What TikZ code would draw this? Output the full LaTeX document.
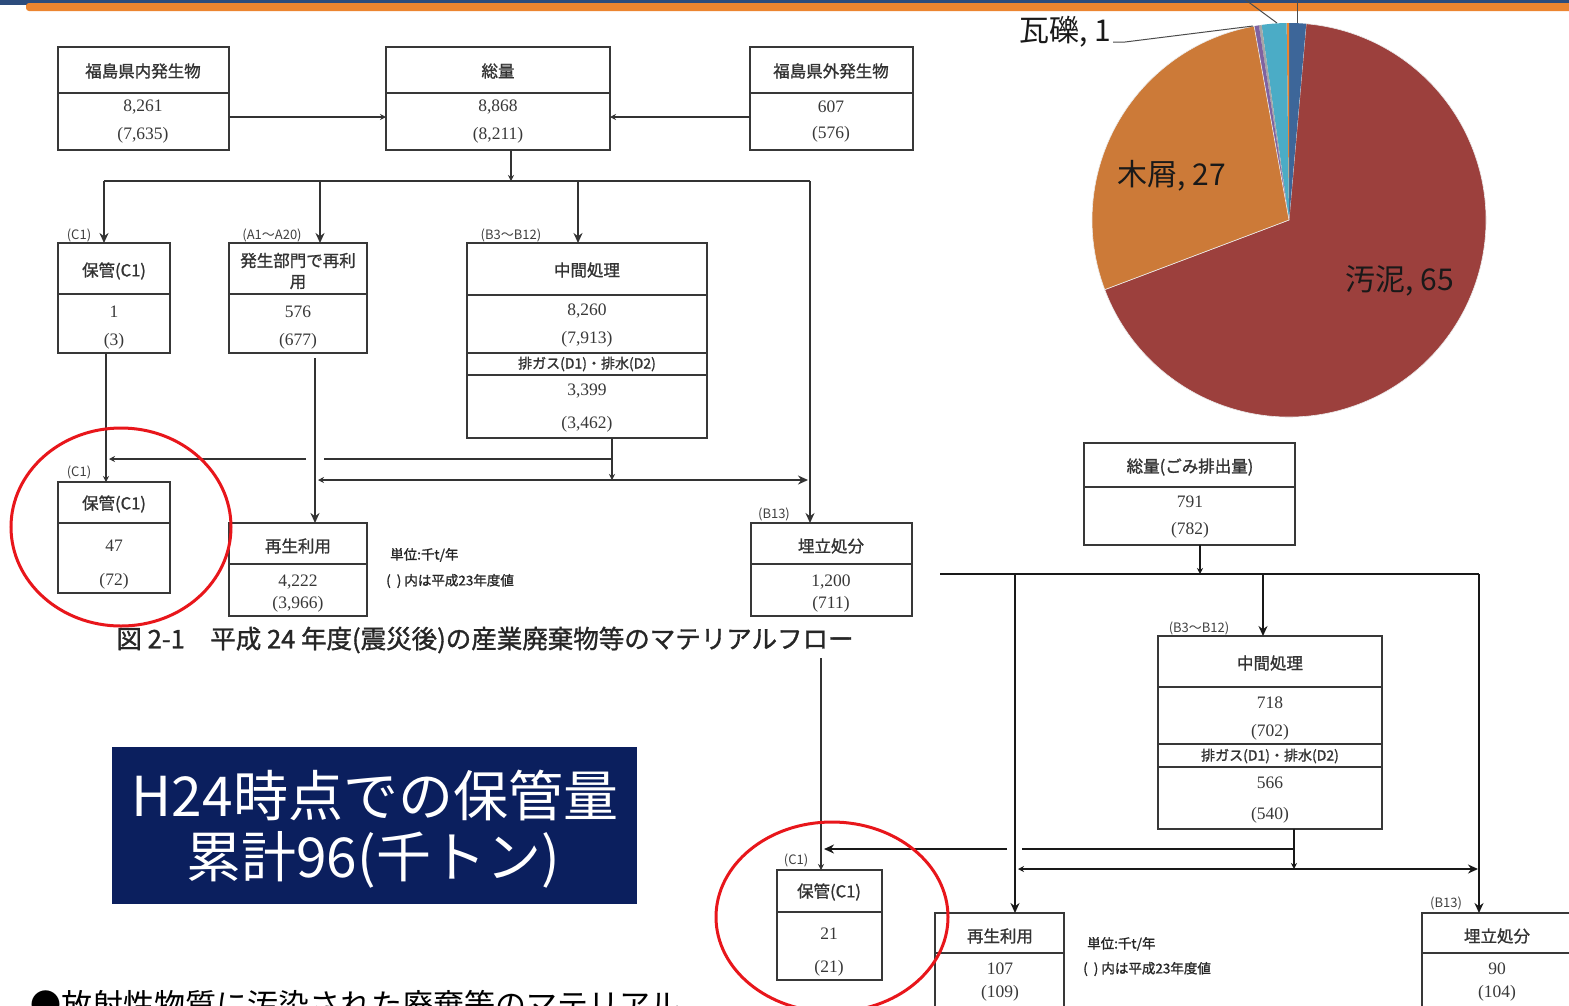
\documentclass[tikz,border=0pt]{standalone}
\usepackage{fontspec}
\setmainfont{Liberation Serif}
\newfontfamily\jp{Noto Sans CJK JP}
\newfontfamily\jpb[FakeBold=1.2]{Noto Sans CJK JP}
\usetikzlibrary{arrows.meta}
\definecolor{barblue}{HTML}{2D4C7C}
\definecolor{barorange}{HTML}{EC8530}
\definecolor{sludge}{HTML}{9C403D}
\definecolor{wood}{HTML}{CC7A38}
\definecolor{skyc}{HTML}{4BACC6}
\definecolor{darkb}{HTML}{3D6699}
\definecolor{purp}{HTML}{7F62A0}
\definecolor{navybox}{HTML}{0B1F5E}
\definecolor{ringred}{HTML}{E8161B}
\newcommand\mfbox[5]{\node[boxst, minimum width={(#4)-(#2)}, minimum height={(#5)-(#3)}] (#1) at (#2,#3) {};}
\newcommand\mfdiv[3]{\draw[divst] (#1,#3) -- (#2,#3);}
\begin{document}
\begin{tikzpicture}[x=1pt,y=-1pt,
  boxst/.style={draw=black!78, line width=2pt, anchor=north west, inner sep=0pt, outer sep=0pt, fill=white},
  divst/.style={draw=black!78, line width=2pt},
  hdr/.style={font=\jpb\fontsize{16.5}{21}\selectfont, text=black!80, inner sep=0pt, align=center},
  num/.style={font=\fontsize{17.5}{18}\selectfont, text=black!78, inner sep=0pt},
  tagst/.style={font=\jp\fontsize{13}{13}\selectfont, text=black!75, inner sep=0pt},
  unitst/.style={font=\jpb\fontsize{13.5}{13.5}\selectfont, text=black!85, inner sep=0pt, anchor=west},
  fl/.style={draw=black!80, line width=1.8pt},
  flb/.style={draw=black!90, line width=2.8pt},
  tipL/.style={-{Stealth[length=10pt,width=9pt]}},
  tipS/.style={-{Stealth[length=6pt,width=6pt]}},
  ring/.style={draw=ringred, line width=3pt},
  pielab/.style={font=\jp\fontsize{30}{30}\selectfont, text=black!90, inner sep=0pt},
  slice/.style={draw=white!85!gray, line width=0.6pt}
]
\useasboundingbox (0,0) rectangle (1569,1005);
\clip (0,0) rectangle (1569,1005);
\fill[white] (0,0) rectangle (1569,1005);

% top bar
\fill[barblue] (0,0) rectangle (1569,4.5);
\fill[barorange, rounded corners=3pt] (26,3) rectangle (1575,11);
\fill[barorange] (26,4.5) rectangle (1569,7);

% pie chart
\begin{scope}[shift={(1289,220)}, yscale=-1]
  \fill[sludge, slice] (0,0) -- (-159.3:197) arc[start angle=-159.3, end angle=85, radius=197] -- cycle;
  \fill[darkb] (0,0) -- (85:197) arc[start angle=85, end angle=90, radius=197] -- cycle;
  \fill[barorange] (0,0) -- (90:197) arc[start angle=90, end angle=90.7, radius=197] -- cycle;
  \fill[skyc] (0,0) -- (90.7:197) arc[start angle=90.7, end angle=98, radius=197] -- cycle;
  \fill[black!35] (0,0) -- (98:197) arc[start angle=98, end angle=98.8, radius=197] -- cycle;
  \fill[purp] (0,0) -- (98.8:197) arc[start angle=98.8, end angle=100.2, radius=197] -- cycle;
  \fill[wood, slice] (0,0) -- (100.2:197) arc[start angle=100.2, end angle=200.7, radius=197] -- cycle;
\end{scope}
\node[pielab] (lwood) at (1172,176) {木屑, 27};
\node[pielab] (lsludge) at (1400,281) {汚泥, 65};
\node[pielab, anchor=east] (lrubble) at (1111,32) {{\jp 瓦礫}, 1};
\coordinate (rubTip) at (1253,26);
\coordinate (topA) at (1277,23);
\coordinate (topAe) at (1243,-2);
\coordinate (topB) at (1297,23);
\coordinate (topBe) at (1297,-2);
\draw[black!70, line width=1pt] ([xshift=2pt,yshift=-10pt]lrubble.east) -- ++(12,0) -- (rubTip);
\draw[black!70, line width=1pt] (topA) -- (topAe);
\draw[black!70, line width=1pt] (topB) -- (topBe);

% ---------- flow chart 1 ----------
\mfbox{A}{58}{47}{229}{150} \mfdiv{58}{229}{93}
\mfbox{B}{386}{47}{610}{150} \mfdiv{386}{610}{93}
\mfbox{C}{750}{47}{913}{150} \mfdiv{750}{913}{93}
\mfbox{D}{58}{243}{170}{353} \mfdiv{58}{170}{294}
\mfbox{E}{229}{243}{367}{353} \mfdiv{229}{367}{294}
\mfbox{F}{467}{243}{707}{438} \mfdiv{467}{707}{295} \mfdiv{467}{707}{353} \mfdiv{467}{707}{375}
\mfbox{G}{58}{482}{170}{593} \mfdiv{58}{170}{523}
\mfbox{H}{229}{523}{367}{616} \mfdiv{229}{367}{564}
\mfbox{I}{751}{523}{912}{616} \mfdiv{751}{912}{564}

\node[hdr] (Ah) at (143,71) {福島県内発生物};
\node[num] (An1) at (143,107) {8,261};
\node[num] (An2) at (143,135) {(7,635)};
\node[hdr] (Bh) at (498,71) {総量};
\node[num] (Bn1) at (498,107) {8,868};
\node[num] (Bn2) at (498,135) {(8,211)};
\node[hdr] (Ch) at (831,71) {福島県外発生物};
\node[num] (Cn1) at (831,107) {607};
\node[num] (Cn2) at (831,134) {(576)};
\node[hdr] (Dh) at (114,271) {保管(C1)};
\node[num] (Dn1) at (114,312) {1};
\node[num] (Dn2) at (114,341) {(3)};
\node[hdr] (Eh) at (298,271) {発生部門で再利\\用};
\node[num] (En1) at (298,312) {576};
\node[num] (En2) at (298,341) {(677)};
\node[hdr] (Fh) at (587,270) {中間処理};
\node[num] (Fn1) at (587,311) {8,260};
\node[num] (Fn2) at (587,339) {(7,913)};
\node[hdr, font=\jpb\fontsize{14}{14}\selectfont] (Fg) at (587,364) {排ガス(D1)・排水(D2)};
\node[num] (Fn3) at (587,391) {3,399};
\node[num] (Fn4) at (587,424) {(3,462)};
\node[hdr] (Gh) at (114,504) {保管(C1)};
\node[num] (Gn1) at (114,546) {47};
\node[num] (Gn2) at (114,581) {(72)};
\node[hdr] (Hh) at (298,546) {再生利用};
\node[num] (Hn1) at (298,582) {4,222};
\node[num] (Hn2) at (298,604) {(3,966)};
\node[hdr] (Ih) at (831,546) {埋立処分};
\node[num] (In1) at (831,582) {1,200};
\node[num] (In2) at (831,604) {(711)};

\node[tagst] (tD) at (79,235) {(C1)};
\node[tagst] (tE) at (272,235) {(A1～A20)};
\node[tagst] (tF) at (511,235) {(B3～B12)};
\node[tagst] (tG) at (79,472) {(C1)};
\node[tagst] (tI) at (774,514) {(B13)};
\node[unitst] (u1) at (390,555) {単位:千t/年};
\node[unitst] (u2) at (386,581) {(\ \ )\ 内は平成23年度値};
\node[font=\jpb\fontsize{25.5}{25.5}\selectfont, text=black!85, inner sep=0pt] (cap) at (485,640) {図 2-1　平成 24 年度(震災後)の産業廃棄物等のマテリアルフロー};

\draw[fl,tipS] ([yshift=-18.5pt]A.east) -- ([yshift=-18.5pt]B.west);
\draw[fl,tipS] ([yshift=-18.5pt]C.west) -- ([yshift=-18.5pt]B.east);
\coordinate (j1) at (511,181);
\draw[fl,tipS] (B.south -| j1) -- (j1);
\coordinate (busL) at (104,181);
\coordinate (busR) at (810,181);
\draw[fl] (busL) -- (busR);
\draw[fl,tipL] (busL) -- (busL |- D.north);
\coordinate (bE) at (320,181);
\draw[fl,tipL] (bE) -- (bE |- E.north);
\coordinate (bF) at (578,181);
\draw[fl,tipL] (bF) -- (bF |- F.north);
\draw[fl,tipL] (busR) -- (busR |- I.north);
\coordinate (xD) at (106,0);
\draw[fl,tipS] (D.south -| xD) -- (G.north -| xD);
\coordinate (xE) at (315,358);
\draw[fl,tipL] (xE) -- (xE |- H.north);
\coordinate (fj) at (612,480);
\coordinate (fk) at (612,459);
\coordinate (gapR) at (324,459);
\coordinate (gapL) at (306,459);
\coordinate (toD) at (109,459);
\coordinate (toE) at (318,480);
\coordinate (toI) at (808,480);
\draw[fl,tipS] (F.south -| fj) -- (fj);
\draw[fl] (fk) -- (gapR);
\draw[fl,tipS] (gapL) -- (toD);
\draw[fl,tipS] (fj) -- (toE);
\draw[fl,tipL] (fj) -- (toI);

\draw[ring] (121,527) ellipse [x radius=110, y radius=99];

% ---------- blue box ----------
\node[fill=navybox, anchor=north west, minimum width=525, minimum height=157, inner sep=0pt] (H24) at (112,747) {};
\node[font=\jp\fontsize{55}{55}\selectfont, text=white, inner sep=0pt] (H24a) at (375,795) {H24時点での保管量};
\node[font=\jp\fontsize{55}{55}\selectfont, text=white, inner sep=0pt] (H24b) at (373,860) {累計96(千トン)};

\node[font=\jp\fontsize{31}{31}\selectfont, text=black, inner sep=0pt, anchor=base west] (btm) at (30,1016) {●放射性物質に汚染された廃棄等のマテリアル};

% ---------- flow chart 2 ----------
\mfbox{J}{1084}{443}{1295}{545} \mfdiv{1084}{1295}{487}
\mfbox{K}{1158}{636}{1382}{829} \mfdiv{1158}{1382}{687} \mfdiv{1158}{1382}{744} \mfdiv{1158}{1382}{767}
\mfbox{L}{777}{870}{882}{980} \mfdiv{777}{882}{912}
\mfbox{M}{935}{913}{1064}{1020} \mfdiv{935}{1064}{953}
\mfbox{N}{1422}{913}{1585}{1020} \mfdiv{1422}{1585}{953}

\node[hdr] (Jh) at (1190,467) {総量(ごみ排出量)};
\node[num] (Jn1) at (1190,502) {791};
\node[num] (Jn2) at (1190,530) {(782)};
\node[hdr] (Kh) at (1270,663) {中間処理};
\node[num] (Kn1) at (1270,703) {718};
\node[num] (Kn2) at (1270,732) {(702)};
\node[hdr, font=\jpb\fontsize{14}{14}\selectfont] (Kg) at (1270,756) {排ガス(D1)・排水(D2)};
\node[num] (Kn3) at (1270,783) {566};
\node[num] (Kn4) at (1270,815) {(540)};
\node[hdr] (Lh) at (829,892) {保管(C1)};
\node[num] (Ln1) at (829,934) {21};
\node[num] (Ln2) at (829,968) {(21)};
\node[hdr] (Mh) at (1000,936) {再生利用};
\node[num] (Mn1) at (1000,969) {107};
\node[num] (Mn2) at (1000,993) {(109)};
\node[hdr] (Nh) at (1497,936) {埋立処分};
\node[num] (Nn1) at (1497,969) {90};
\node[num] (Nn2) at (1497,993) {(104)};

\node[tagst] (tK) at (1199,628) {(B3～B12)};
\node[tagst] (tL) at (796,860) {(C1)};
\node[tagst] (tN) at (1446,903) {(B13)};
\node[unitst] (u3) at (1087,944) {単位:千t/年};
\node[unitst] (u4) at (1083,969) {(\ \ )\ 内は平成23年度値};

\coordinate (k1) at (1200,574);
\draw[flb,tipS] (J.south -| k1) -- (k1);
\coordinate (b2L) at (940,574);
\coordinate (b2R) at (1479,574);
\draw[flb] (b2L) -- (b2R);
\coordinate (b2M) at (1015,574);
\draw[flb,tipL] (b2M) -- (b2M |- M.north);
\coordinate (b2K) at (1263,574);
\draw[flb,tipL] (b2K) -- (b2K |- K.north);
\draw[flb,tipL] (b2R) -- (b2R |- N.north);
\coordinate (lTop) at (821,658);
\draw[fl,tipS] (lTop) -- (lTop |- L.north);
\coordinate (kj) at (1294,869);
\coordinate (kk) at (1294,849);
\coordinate (g2R) at (1022,849);
\coordinate (g2L) at (1007,849);
\coordinate (toL) at (824,849);
\coordinate (toM) at (1018,869);
\coordinate (toN) at (1478,869);
\draw[flb,tipS] (K.south -| kj) -- (kj);
\draw[flb] (kk) -- (g2R);
\draw[flb,tipL] (g2L) -- (toL);
\draw[flb,tipS] (kj) -- (toM);
\draw[flb,tipL] (kj) -- (toN);

\draw[ring] (832,917) ellipse [x radius=116, y radius=95];
\end{tikzpicture}
\end{document}
